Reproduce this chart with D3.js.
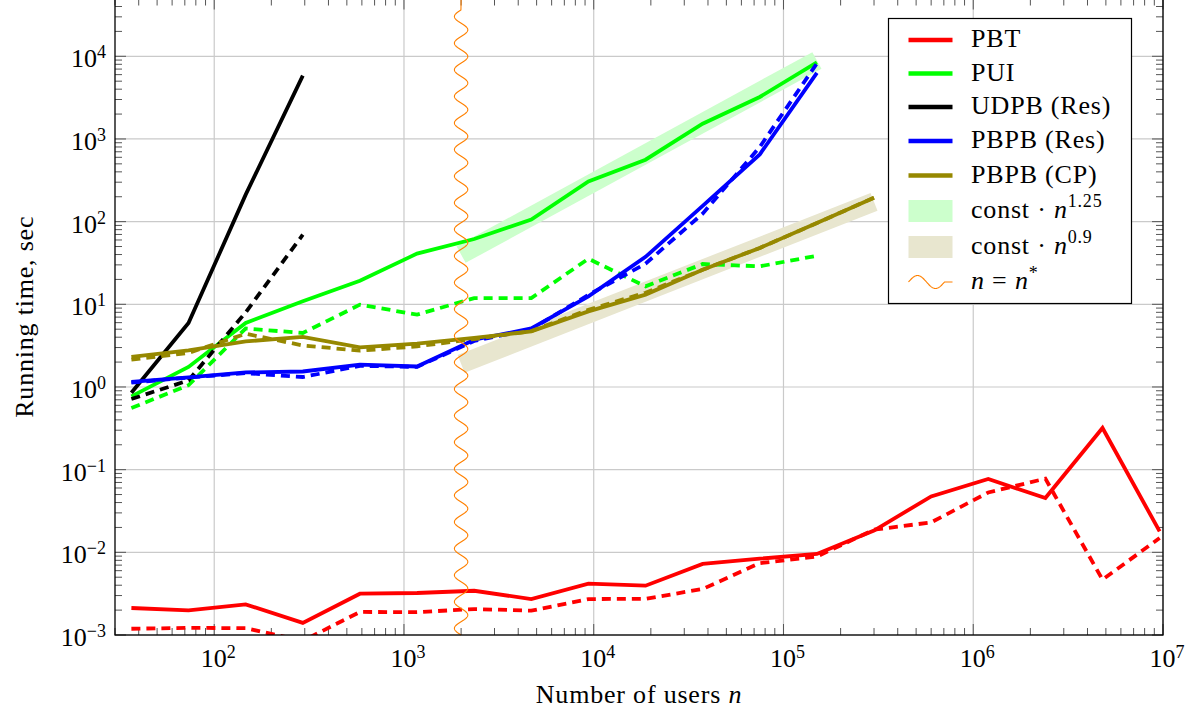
<!DOCTYPE html>
<html>
<head>
<meta charset="utf-8">
<script src="https://cdn.jsdelivr.net/npm/d3@7"></script>
<style>
body { margin:0; background:#fff; }
text { font-family: "Liberation Serif", serif; fill:#000; }
.word { letter-spacing: 0.8px; }
</style>
</head>
<body>
<svg id="chart" width="1196" height="711"></svg>
<script>
// DATA (running time in sec for each number of users)
var users = [36.6, 73.2, 146.5, 293, 586, 1172, 2344, 4688, 9375, 18750, 37500, 75000,
             150000, 300000, 600000, 1200000, 2400000, 4800000, 9600000];

var pbt      = [0.00212, 0.00199, 0.00235, 0.0014, 0.00316, 0.00322, 0.00343, 0.00272, 0.00418, 0.00395,
                0.00723, 0.00838, 0.00955, 0.0183, 0.0475, 0.077, 0.0454, 0.319, 0.0179];
var pbtDash  = [0.00119, 0.00122, 0.00121, 0.00085, 0.0019, 0.00189, 0.00206, 0.00197, 0.00272, 0.00274,
                0.0036, 0.0074, 0.0089, 0.0188, 0.023, 0.053, 0.0778, 0.00467, 0.0149];
var pui      = [0.77, 1.75, 5.94, 10.9, 19.3, 41, 61.7, 105.7, 307, 561, 1530, 3220, 8430];
var puiDash  = [0.557, 1.05, 5.1, 4.5, 9.9, 7.5, 11.9, 11.9, 35.6, 16.5, 30.7, 28.8, 38.7];
var udpb     = [0.85, 5.94, 212, 5830];
var udpbDash = [0.716, 1.2, 8, 69.5];
var pbpbRes     = [1.15, 1.31, 1.5, 1.54, 1.86, 1.77, 3.73, 5.1, 12.5, 37.5, 155, 650, 6300];
var pbpbResDash = [1.13, 1.3, 1.47, 1.32, 1.8, 1.75, 3.6, 5.0, 13, 31, 125, 800, 8200];
var pbpbCP      = [2.31, 2.77, 3.56, 4.03, 3.01, 3.34, 3.92, 4.71, 8.2, 13.1, 26.2, 48, 96, 195];
var pbpbCPDash  = [2.14, 2.58, 4.4, 3.18, 2.75, 3.1, 3.8, 4.75, 8.6, 13.8, 26.2, 48, 96, 195];

// reference bands: [n, time] at both ends
var bandPUI = [[2000, 40], [150000, 8900]];
var bandCP  = [[2000, 1.9], [300000, 173]];
var nStar = 2000;

// TICKS
var xTickExp = [2, 3, 4, 5, 6, 7];
var yTickExp = [-3, -2, -1, 0, 1, 2, 3, 4];

// LEGEND
var legendNames = ["PBT", "PUI", "UDPB (Res)", "PBPB (Res)", "PBPB (CP)"];

// COLORS
var red = "#ff0000", green = "#00ff00", blue = "#0000ff", olive = "#968800", orange = "#ff8000";
var greenBand = "#ccffcc", oliveBand = "#e8e6cf";

// SIZES (plot box)
var pLeft = 115, pRight = 1163, pTop = -1.5, pBottom = 635;
var lineW = 3.8;
var dash = "9,6";
var bandW = 19;
var fontSize = 26, expSize = 18;

var x = d3.scaleLog().domain([30, 1e7]).range([pLeft, pRight]);
var y = d3.scaleLog().domain([1e-3, 5e4]).range([pBottom, pTop]);

var svg = d3.select("#chart");

svg.append("defs").append("clipPath").attr("id", "plotclip")
  .append("rect").attr("x", pLeft).attr("y", pTop).attr("width", pRight - pLeft).attr("height", pBottom - pTop);

// grid
var grid = svg.append("g").attr("stroke", "#cacaca").attr("stroke-width", 1.2);
grid.selectAll(".gx").data(xTickExp).enter().append("line")
  .attr("x1", d => x(Math.pow(10, d))).attr("x2", d => x(Math.pow(10, d)))
  .attr("y1", pTop).attr("y2", pBottom);
grid.selectAll(".gy").data(yTickExp).enter().append("line")
  .attr("x1", pLeft).attr("x2", pRight)
  .attr("y1", d => y(Math.pow(10, d))).attr("y2", d => y(Math.pow(10, d)));

// minor tick positions
function minors(scale) {
  var dom = scale.domain(), res = [];
  for (var e = -4; e <= 8; e++) {
    for (var m = 2; m <= 9; m++) {
      var v = m * Math.pow(10, e);
      if (v >= dom[0] && v <= dom[1]) res.push(v);
    }
  }
  return res;
}
var xMinor = minors(x), yMinor = minors(y);
var xMajor = xTickExp.map(e => Math.pow(10, e));
var yMajor = yTickExp.map(e => Math.pow(10, e));

var ticks = svg.append("g").attr("stroke", "#555").attr("stroke-width", 1);
function xTicks(vals, len) {
  ticks.selectAll(null).data(vals).enter().append("line")
    .attr("x1", d => x(d)).attr("x2", d => x(d)).attr("y1", pBottom).attr("y2", pBottom - len);
  ticks.selectAll(null).data(vals).enter().append("line")
    .attr("x1", d => x(d)).attr("x2", d => x(d)).attr("y1", pTop).attr("y2", pTop + len);
}
function yTicks(vals, len) {
  ticks.selectAll(null).data(vals).enter().append("line")
    .attr("y1", d => y(d)).attr("y2", d => y(d)).attr("x1", pLeft).attr("x2", pLeft + len);
  ticks.selectAll(null).data(vals).enter().append("line")
    .attr("y1", d => y(d)).attr("y2", d => y(d)).attr("x1", pRight).attr("x2", pRight - len);
}
xTicks(xMinor, 7); xTicks(xMajor, 11);
yTicks(yMinor, 7); yTicks(yMajor, 11);

// plot content
var plot = svg.append("g").attr("clip-path", "url(#plotclip)");

function band(pts, color) {
  plot.append("line")
    .attr("x1", x(pts[0][0])).attr("y1", y(pts[0][1]))
    .attr("x2", x(pts[1][0])).attr("y2", y(pts[1][1]))
    .attr("stroke", color).attr("stroke-width", bandW).attr("stroke-linecap", "butt");
}
band(bandPUI, greenBand);
band(bandCP, oliveBand);

var line = d3.line().x((d, i) => x(users[i])).y(d => y(d));
var series = [
  {v: pbt, c: red}, {v: pbtDash, c: red, dash: true},
  {v: pui, c: green}, {v: puiDash, c: green, dash: true},
  {v: udpb, c: "#000"}, {v: udpbDash, c: "#000", dash: true},
  {v: pbpbRes, c: blue}, {v: pbpbResDash, c: blue, dash: true},
  {v: pbpbCP, c: olive}, {v: pbpbCPDash, c: olive, dash: true}
];
series.forEach(function(s) {
  plot.append("path")
    .attr("d", line(s.v))
    .attr("fill", "none")
    .attr("stroke", s.c)
    .attr("stroke-width", lineW)
    .attr("stroke-linejoin", "miter")
    .attr("stroke-dasharray", s.dash ? dash : null);
});

// wavy vertical line at n = n*
function wavePath(cx, y0, y1, amp, period) {
  var len = y0 - y1, pts = [];
  var waveLen = Math.floor(len / (period / 2)) * (period / 2);
  for (var d = 0; d <= waveLen; d += 0.5) {
    pts.push([cx - amp * Math.sin(2 * Math.PI * d / period), y0 - d]);
  }
  pts.push([cx, y1]);
  return d3.line()(pts);
}
svg.append("path")
  .attr("d", wavePath(x(nStar), pBottom, 0, 6.7, 26.6))
  .attr("fill", "none").attr("stroke", orange).attr("stroke-width", 1.1);

// frame
svg.append("rect").attr("x", pLeft).attr("y", pTop).attr("width", pRight - pLeft).attr("height", pBottom - pTop)
  .attr("fill", "none").attr("stroke", "#000").attr("stroke-width", 1.3);

// tick labels
function powText(sel, exp) {
  sel.append("tspan").text("10");
  sel.append("tspan").attr("font-size", expSize).attr("dy", -9).text(exp < 0 ? "\u2212" + (-exp) : exp);
}
svg.selectAll(".ylab").data(yTickExp).enter().append("text")
  .attr("x", pLeft - 9).attr("y", d => y(Math.pow(10, d)) + 11)
  .attr("text-anchor", "end").attr("font-size", fontSize)
  .each(function(d) { powText(d3.select(this), d); });
svg.selectAll(".xlab").data(xTickExp).enter().append("text")
  .attr("x", d => x(Math.pow(10, d)) + 4).attr("y", pBottom + 32)
  .attr("text-anchor", "middle").attr("font-size", fontSize)
  .each(function(d) { powText(d3.select(this), d); });

// axis labels
var xl = svg.append("text").attr("class", "word").attr("x", (pLeft + pRight) / 2).attr("y", 703)
  .attr("text-anchor", "middle").attr("font-size", fontSize);
xl.append("tspan").text("Number of users ");
xl.append("tspan").attr("font-style", "italic").text("n");

svg.append("text").attr("class", "word")
  .attr("transform", "translate(33," + ((pTop + pBottom) / 2) + ") rotate(-90)")
  .attr("text-anchor", "middle").attr("font-size", fontSize)
  .text("Running time, sec");

// LEGEND
var lg = svg.append("g");
var lgX = 888.5, lgY = 18.5, lgW = 243, lgH = 285;
var rowY = [40, 73.5, 107, 141, 175.5, 211, 247, 282];
var swX0 = 908.5, swX1 = 952.5, txtX = 971;
lg.append("rect").attr("x", lgX).attr("y", lgY).attr("width", lgW).attr("height", lgH)
  .attr("fill", "#fff").attr("stroke", "#000").attr("stroke-width", 1.2);

var lineColors = [red, green, "#000", blue, olive];
legendNames.forEach(function(name, i) {
  lg.append("line").attr("x1", swX0).attr("x2", swX1).attr("y1", rowY[i]).attr("y2", rowY[i])
    .attr("stroke", lineColors[i]).attr("stroke-width", 4.5);
  lg.append("text").attr("class", "word").attr("x", txtX).attr("y", rowY[i] + 7)
    .attr("font-size", fontSize).text(name);
});

[[greenBand, "1.25"], [oliveBand, "0.9"]].forEach(function(b, j) {
  var ry = rowY[5 + j];
  lg.append("rect").attr("x", swX0).attr("y", ry - 11).attr("width", swX1 - swX0).attr("height", 22)
    .attr("fill", b[0]);
  var t = lg.append("text").attr("class", "word").attr("x", txtX).attr("y", ry + 7).attr("font-size", fontSize);
  t.append("tspan").text("const \u00b7 ");
  t.append("tspan").attr("font-style", "italic").text("n");
  t.append("tspan").attr("font-size", expSize).attr("dy", -11).text(b[1]);
});

// wave swatch
(function() {
  var ry = rowY[7], pts = [];
  for (var t = 0; t <= 36; t += 0.5) pts.push([swX0 + t, ry - 6.5 * Math.sin(2 * Math.PI * t / 36)]);
  pts.push([swX1, ry]);
  lg.append("path").attr("d", d3.line()(pts)).attr("fill", "none").attr("stroke", orange).attr("stroke-width", 1.1);
  var t = lg.append("text").attr("class", "word").attr("x", txtX).attr("y", ry + 7).attr("font-size", fontSize);
  t.append("tspan").attr("font-style", "italic").text("n");
  t.append("tspan").text(" = ");
  t.append("tspan").attr("font-style", "italic").text("n");
  t.append("tspan").attr("font-size", expSize).attr("dy", -10).text("*");
})();
</script>
</body>
</html>
